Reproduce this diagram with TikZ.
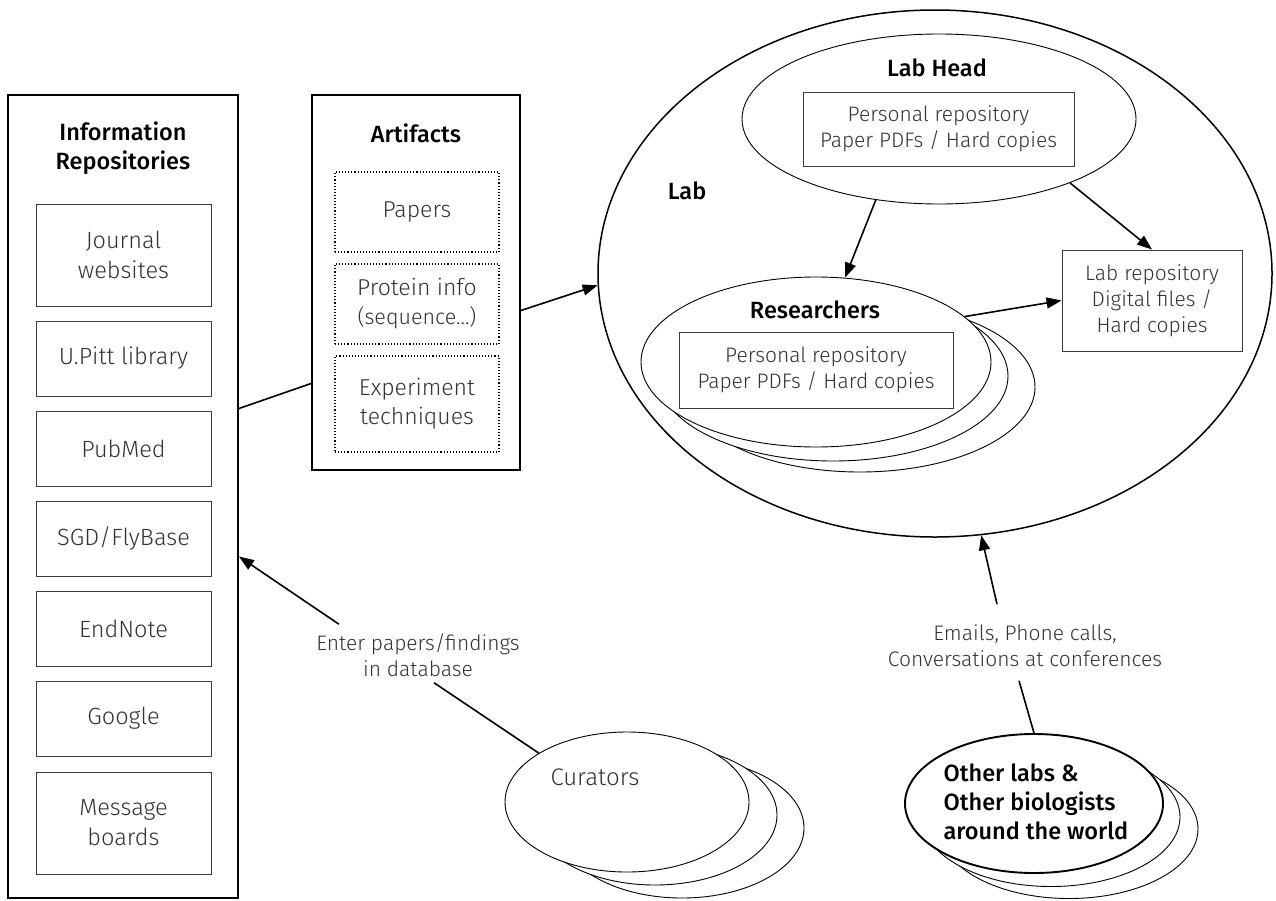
\documentclass[tikz,border=0pt]{standalone}
\usepackage{fontspec}
\usetikzlibrary{shapes.geometric,arrows.meta}
\setmainfont{Fira Sans}
\IfFontExistsTF{Fira Sans Light}{\newfontfamily\lightf{Fira Sans Light}}{\newfontfamily\lightf{Fira Sans}}
\IfFontExistsTF{Fira Sans Medium}{\newfontfamily\medf{Fira Sans Medium}}{\newfontfamily\medf{Fira Sans}}
\definecolor{txt}{HTML}{333333}
\definecolor{ln}{HTML}{3A3A3A}
\tikzset{
  outer/.style={draw=black, line width=1.9pt},
  inbox/.style={draw=ln, line width=1pt, minimum width=175pt, align=center, text=txt, font=\lightf\fontsize{23.5}{30}\selectfont},
  dotbox/.style={draw=black, dotted, line width=1.1pt, minimum width=164pt, align=center, text=txt, font=\lightf\fontsize{23}{29}\selectfont},
  repbox/.style={draw=ln, line width=1pt, align=center, text=txt, font=\lightf\fontsize{21}{26}\selectfont},
  hdr/.style={align=center, text=black, font=\medf\fontsize{23.5}{29}\selectfont},
  lbl/.style={align=center, text=txt, font=\lightf\fontsize{21}{26}\selectfont},
  ell/.style={ellipse, draw=black, line width=0.9pt, fill=white, inner sep=0pt},
  arr/.style={-{Triangle[length=15pt,width=11pt]}, line width=1.6pt},
  conn/.style={line width=1.6pt},
}
\begin{document}
\begin{tikzpicture}[x=1pt,y=-1pt]
\useasboundingbox (0,0) rectangle (1276,900);
% Information repositories
\node[outer, minimum width=230pt, minimum height=803pt] (info) at (123,496.5) {};
\node[hdr] (infoT) at (123,148) {Information\\Repositories};
\node[inbox, minimum height=102pt] (jw) at (123.5,255) {Journal\\websites};
\node[inbox, minimum height=75pt] (up) at (123.5,358.5) {U.Pitt library};
\node[inbox, minimum height=75pt] (pm) at (123.5,448.5) {PubMed};
\node[inbox, minimum height=75pt] (sgd) at (123.5,538.5) {SGD/FlyBase};
\node[inbox, minimum height=75pt] (en) at (123.5,628.5) {EndNote};
\node[inbox, minimum height=75pt] (go) at (123.5,718.5) {Google};
\node[inbox, minimum height=102pt] (mb) at (123.5,823) {Message\\boards};
% Artifacts
\node[outer, minimum width=208pt, minimum height=375pt] (art) at (416,282.5) {};
\node[hdr] (artT) at (416,133) {Artifacts};
\node[dotbox, minimum height=80pt] (pap) at (417,212) {Papers};
\node[dotbox, minimum height=80pt] (pro) at (417,304) {Protein info\\{\fontsize{21.5}{25}\selectfont(sequence...)}};
\node[dotbox, minimum height=96pt] (exp) at (417,404) {Experiment\\techniques};
% Lab
\node[ellipse, draw=black, line width=1.5pt, minimum width=674pt, minimum height=527pt, inner sep=0pt] (lab) at (935,273.5) {};
\node[hdr] (labT) at (687,191) {Lab};
\node[ell, minimum width=394pt, minimum height=170pt] (lh) at (939,119) {};
\node[hdr] (lhT) at (937,68) {Lab Head};
\node[repbox, minimum width=271pt, minimum height=74pt] (lhbox) at (938.5,129) {Personal repository\\Paper PDFs / Hard copies};
% Researchers (stack)
\node[ell, minimum width=350pt, minimum height=170pt] (res3) at (860,387) {};
\node[ell, minimum width=350pt, minimum height=170pt] (res2) at (833,376) {};
\node[ell, minimum width=350pt, minimum height=170pt] (res) at (816,362) {};
\node[hdr] (resT) at (815,310) {Researchers};
\node[repbox, minimum width=274pt, minimum height=76pt] (resbox) at (816,370) {Personal repository\\Paper PDFs / Hard copies};
% Lab repository
\node[repbox, minimum width=180pt, minimum height=101pt] (lrep) at (1152,300.5) {Lab repository\\Digital files /\\Hard copies};
% Curators
\node[ell, minimum width=244pt, minimum height=140pt] (cur3) at (682,828) {};
\node[ell, minimum width=244pt, minimum height=140pt] (cur2) at (655,815) {};
\node[ell, minimum width=244pt, minimum height=140pt] (cur) at (627,802) {};
\node[lbl, font=\lightf\fontsize{24}{28}\selectfont] (curT) at (595,777) {Curators};
\node[lbl, inner sep=6pt] (enter) at (418,655) {Enter papers/findings\\in database};
% Other labs
\node[ell, minimum width=258pt, minimum height=139pt] (oth3) at (1069,829) {};
\node[ell, minimum width=258pt, minimum height=139pt] (oth2) at (1051,817) {};
\node[ell, line width=1.9pt, minimum width=258pt, minimum height=139pt] (oth) at (1034,803.5) {};
\node[align=left, anchor=west, text=black, font=\medf\fontsize{23.5}{29}\selectfont] (othT) at (940,802) {Other labs \&\\Other biologists\\around the world};
\node[lbl, inner sep=6pt] (emails) at (1025,645.5) {Emails, Phone calls,\\Conversations at conferences};
% Connectors
\draw[conn] ([yshift=88pt]info.east) -- ([yshift=-101pt]art.west);
\draw[arr] ([yshift=-28pt]art.east) -- (lab.182);
\draw[arr] (lh.232) -- (res.71);
\draw[arr] (lh.-26) -- (lrep.north);
\draw[arr] (res.17) -- (lrep.west);
\draw[conn] (cur.151) -- ([xshift=16pt]enter.south);
\draw[arr] ([xshift=-79pt,yshift=3pt]enter.north) -- ([yshift=-60pt]info.east);
\draw[conn] (oth.north) -- ([xshift=-6pt,yshift=-8pt]emails.south);
\draw[arr] ([xshift=-28pt,yshift=14pt]emails.north) -- (lab.-80);
\end{tikzpicture}
\end{document}
